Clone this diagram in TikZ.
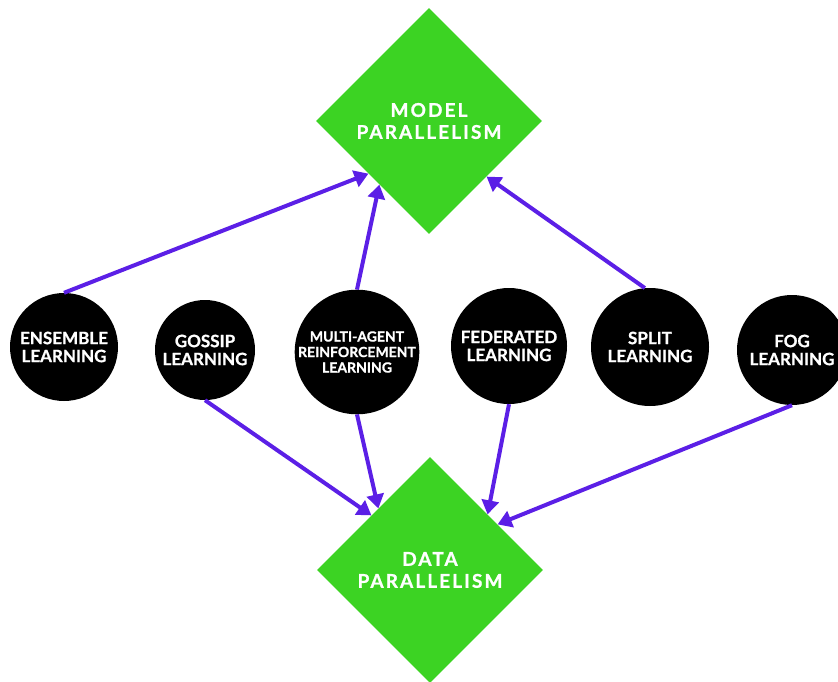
\documentclass[tikz,border=0pt]{standalone}
\usepackage{fontspec}
\setmainfont{Lato}
\usetikzlibrary{shapes.geometric,arrows.meta}
\definecolor{grn}{HTML}{3CD323}
\definecolor{arr}{HTML}{5B1FE6}
\begin{document}
\begin{tikzpicture}[x=1pt,y=-1pt,
 circ/.style={circle,fill=black,text=white,inner sep=0pt,align=center,
   font=\bfseries\fontsize{17}{18}\selectfont\addfontfeature{FakeBold=1}},
 dia/.style={diamond,aspect=1,fill=grn,text=white,inner sep=0pt,
   minimum width=226pt,minimum height=226pt,align=center,
   font=\bfseries\fontsize{19}{22}\selectfont\addfontfeature{LetterSpace=11,FakeBold=1}},
 link/.style={draw=arr,line width=4pt,-{Triangle[length=14pt,width=17pt]}}]
\useasboundingbox (0,0) rectangle (838,682);
\clip (0,0) rectangle (838,682);
\node[dia] (model) at (429,121) {MODEL\\PARALLELISM};
\node[dia] (data) at (430,570) {DATA\\PARALLELISM};
\node[circ,minimum size=108pt] (ens) at (64,347) {ENSEMBLE\\LEARNING};
\node[circ,minimum size=100pt] (gos) at (205,350) {GOSSIP\\LEARNING};
\node[circ,minimum size=122pt,font=\bfseries\fontsize{14}{15.5}\selectfont\addfontfeature{FakeBold=1}] (mar) at (357,352) {MULTI-AGENT\\REINFORCEMENT\\LEARNING};
\node[circ,minimum size=116pt] (fed) at (509,346) {FEDERATED\\LEARNING};
\node[circ,minimum size=118pt] (spl) at (650,347) {SPLIT\\LEARNING};
\node[circ,minimum size=110pt] (fog) at (792,350) {FOG\\LEARNING};
\draw[link] (ens.north) -- (model.221);
\draw[link] (mar.north) -- (model.232);
\draw[link] (spl.95) -- (model.316);
\draw[link] (gos.south) -- (data.137);
\draw[link] (mar.south) -- (data.130);
\draw[link] (fed.south) -- (data.44);
\draw[link] (fog.south) -- (data.34);
\end{tikzpicture}
\end{document}
